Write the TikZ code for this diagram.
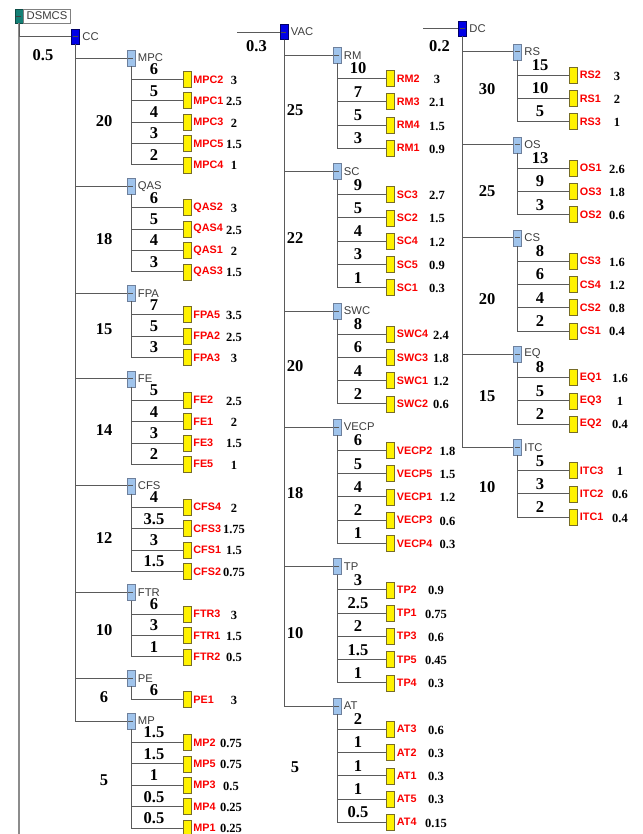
\documentclass[tikz,border=0pt]{standalone}
\usepackage{fontspec}
\setmainfont{Liberation Serif}
\setsansfont{Liberation Sans}
\usetikzlibrary{positioning}
\definecolor{rootteal}{RGB}{20,128,118}
\definecolor{topblue}{RGB}{0,0,230}
\definecolor{grpfill}{RGB}{160,196,236}
\definecolor{grpedge}{RGB}{110,128,156}
\definecolor{leafedge}{RGB}{118,108,40}
\definecolor{linegray}{RGB}{90,90,90}
\definecolor{textgray}{RGB}{60,60,60}
\definecolor{leafred}{RGB}{250,0,0}

% column positions: parent x, leaf x, leaf weight x, value x, group weight x
\newcommand{\colset}[5]{\def\colbx{#1}\def\collx{#2}\def\colwx{#3}\def\colvx{#4}\def\colgx{#5}}
% one group: name, y, weight, weight y, top node, leaves name/weight/value/y
\newcommand{\branchgroup}[6]{%
  \node[grpbox] (#1) at (\colbx,#2) {};
  \node[grptxt, right=0pt of #1] (#1-t) {#1};
  \draw[ln] (#5.south) |- (#1.west);
  \node[gwtxt] (#1-w) at (\colgx,#4) {#3};
  \foreach \lf/\lw/\lv/\ly in {#6} {
    \node[leafbox] (\lf) at (\collx,\ly) {};
    \node[leaftxt, right=0pt of \lf] (\lf-t) {\lf};
    \draw[ln] (#1.south) |- (\lf.west);
    \node[wtxt] (\lf-w) at (\colwx,\ly-4.5) {\lw};
    \node[vtxt] (\lf-v) at (\colvx,\ly+1) {\lv};
  }
}

\begin{document}
\begin{tikzpicture}[x=1pt, y=-1pt,
  ln/.style={draw=linegray, line width=0.8pt},
  dashmark/.style={path picture={\draw[#1, line width=0.7pt]
    ([xshift=1pt]path picture bounding box.west) -- ([xshift=-2pt]path picture bounding box.east);}},
  rootbox/.style={draw=rootteal!60!black, fill=rootteal, minimum width=8pt, minimum height=14pt,
    inner sep=0pt, dashmark=black!75},
  rootlbl/.style={draw=gray, fill=white, line width=0.6pt, minimum height=14pt, inner xsep=3.2pt,
    inner ysep=0pt, text=textgray, font=\sffamily\fontsize{11.25}{13}\selectfont},
  topbox/.style={draw=topblue!45!black, fill=topblue, minimum width=8pt, minimum height=15pt,
    inner sep=0pt, dashmark=black!70},
  grpbox/.style={draw=grpedge, fill=grpfill, minimum width=8pt, minimum height=16pt,
    inner sep=0pt, dashmark=black!65},
  leafbox/.style={draw=leafedge, fill=yellow, minimum width=8pt, minimum height=16pt, inner sep=0pt},
  toptxt/.style={text=textgray, inner xsep=2.5pt, inner ysep=0pt, font=\sffamily\fontsize{11.25}{13}\selectfont},
  grptxt/.style={toptxt},
  leaftxt/.style={text=leafred, inner xsep=2pt, inner ysep=0pt, font=\sffamily\bfseries\fontsize{10.8}{13}\selectfont},
  wtxt/.style={anchor=base, inner sep=0pt, font=\bfseries\fontsize{16.5}{18}\selectfont},
  gwtxt/.style={inner sep=0pt, font=\bfseries\fontsize{16.5}{18}\selectfont},
  vtxt/.style={inner sep=0pt, font=\bfseries\fontsize{12.5}{14}\selectfont}]
\useasboundingbox (0,0) rectangle (642,834);

% root and trunk
\node[rootbox] (root) at (19,16) {};
\node[rootlbl, right=0pt of root] (root-t) {DSMCS};
\coordinate (trunkend) at (19,834);
\draw[draw=black!45, line width=1.2pt] (root.south) -- (trunkend);

% top nodes
\node[topbox] (CC) at (75.5,36.5) {};
\node[toptxt, right=0pt of CC] (CC-t) {CC};
\draw[ln] (root.south) |- (CC.west);
\node[gwtxt] (CC-w) at (43,55) {0.5};

\node[topbox] (VAC) at (284,32) {};
\node[toptxt, right=0pt of VAC] (VAC-t) {VAC};
\coordinate (VAC-in) at (237,32);
\draw[ln] (VAC-in) -- (VAC.west);
\node[gwtxt] (VAC-w) at (256.5,46.5) {0.3};

\node[topbox] (DC) at (462.5,28.5) {};
\node[toptxt, right=0pt of DC] (DC-t) {DC};
\coordinate (DC-in) at (423,28.5);
\draw[ln] (DC-in) -- (DC.west);
\node[gwtxt] (DC-w) at (439.5,46.5) {0.2};

% CC
\colset{131}{187}{154}{234}{104}
\branchgroup{MPC}{58}{20}{121}{CC}{MPC2/6/3/79.3, MPC1/5/2.5/100.7, MPC3/4/2/122.1, MPC5/3/1.5/143.5, MPC4/2/1/164.8}
\branchgroup{QAS}{186.2}{18}{239}{CC}{QAS2/6/3/207.6, QAS4/5/2.5/229, QAS1/4/2/250.4, QAS3/3/1.5/271.8}
\branchgroup{FPA}{293.2}{15}{329}{CC}{FPA5/7/3.5/314.6, FPA2/5/2.5/336, FPA3/3/3/357.4}
\branchgroup{FE}{378.7}{14}{430}{CC}{FE2/5/2.5/400.1, FE1/4/2/421.5, FE3/3/1.5/442.9, FE5/2/1/464.3}
\branchgroup{CFS}{485.7}{12}{538}{CC}{CFS4/4/2/507.1, CFS3/3.5/1.75/528.5, CFS1/3/1.5/549.9, CFS2/1.5/0.75/571.3}
\branchgroup{FTR}{592.6}{10}{630}{CC}{FTR3/6/3/614, FTR1/3/1.5/635.4, FTR2/1/0.5/656.8}
\branchgroup{PE}{678.2}{6}{697}{CC}{PE1/6/3/699.6}
\def\colvx{231}
\branchgroup{MP}{721}{5}{780}{CC}{MP2/1.5/0.75/742.4, MP5/1.5/0.75/763.8, MP3/1/0.5/785.2, MP4/0.5/0.25/806.5, MP1/0.5/0.25/827.9}

% VAC
\colset{337}{390.5}{358}{437}{295}
\branchgroup{RM}{55.2}{25}{110}{VAC}{RM2/10/3/78.5, RM3/7/2.1/101.7, RM4/5/1.5/125, RM1/3/0.9/148.2}
\branchgroup{SC}{171.4}{22}{238}{VAC}{SC3/9/2.7/194.7, SC2/5/1.5/217.9, SC4/4/1.2/241.2, SC5/3/0.9/264.4, SC1/1/0.3/287.6}
\def\colvx{441}
\branchgroup{SWC}{310.9}{20}{366}{VAC}{SWC4/8/2.4/334.1, SWC3/6/1.8/357.4, SWC1/4/1.2/380.6, SWC2/2/0.6/403.8}
\def\colvx{447.5}
\branchgroup{VECP}{427.1}{18}{493}{VAC}{VECP2/6/1.8/450.3, VECP5/5/1.5/473.6, VECP1/4/1.2/496.8, VECP3/2/0.6/520, VECP4/1/0.3/543.3}
\def\colvx{436}
\branchgroup{TP}{566.5}{10}{633}{VAC}{TP2/3/0.9/589.8, TP1/2.5/0.75/613, TP3/2/0.6/636.2, TP5/1.5/0.45/659.5, TP4/1/0.3/682.7}
\branchgroup{AT}{706}{5}{767}{VAC}{AT3/2/0.6/729.2, AT2/1/0.3/752.4, AT1/1/0.3/775.7, AT5/1/0.3/798.9, AT4/0.5/0.15/822.2}

% DC
\colset{517.5}{573.5}{540}{617}{487}
\branchgroup{RS}{51.8}{30}{89}{DC}{RS2/15/3/75, RS1/10/2/98.3, RS3/5/1/121.3}
\branchgroup{OS}{144.8}{25}{191}{DC}{OS1/13/2.6/168.1, OS3/9/1.8/191.3, OS2/3/0.6/214.6}
\branchgroup{CS}{237.8}{20}{299}{DC}{CS3/8/1.6/261.1, CS4/6/1.2/284.4, CS2/4/0.8/307.6, CS1/2/0.4/330.9}
\def\colvx{620}
\branchgroup{EQ}{354.1}{15}{396}{DC}{EQ1/8/1.6/377.4, EQ3/5/1/400.7, EQ2/2/0.4/423.9}
\branchgroup{ITC}{447.2}{10}{487}{DC}{ITC3/5/1/470.5, ITC2/3/0.6/493.7, ITC1/2/0.4/517}
\end{tikzpicture}
\end{document}
